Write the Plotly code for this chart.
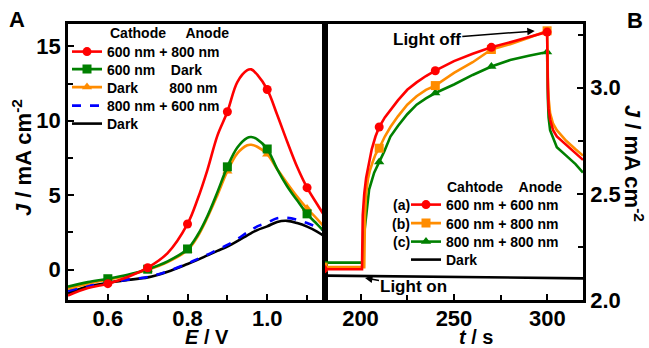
import numpy as np
import plotly.graph_objects as go

# ---------------- Panel A data (E / V vs J / mA cm-2) ----------------
E_A = [0.50, 0.55, 0.60, 0.65, 0.70, 0.75, 0.80, 0.825, 0.85, 0.875, 0.90,
       0.925, 0.95, 0.96, 0.975, 1.00, 1.025, 1.05, 1.075, 1.10, 1.125, 1.145]
J_A_600_800 = [-1.75, -1.25, -0.95, -0.5, 0.12, 1.1, 3.06, 4.7, 6.7, 9.0, 10.6,
               12.6, 13.4, 13.45, 13.1, 12.1, 10.4, 8.6, 6.9, 5.5, 4.4, 3.55]
J_A_600_dark = [-1.15, -0.85, -0.62, -0.35, 0.02, 0.55, 1.38, 2.3, 3.6, 5.2, 6.9,
                8.2, 8.85, 8.9, 8.75, 8.1, 6.75, 5.6, 4.65, 3.74, 3.05, 2.5]
J_A_dark_800 = [-1.3, -0.95, -0.68, -0.4, -0.02, 0.5, 1.3, 2.2, 3.5, 5.0, 6.6,
                7.8, 8.35, 8.38, 8.25, 7.75, 6.75, 5.8, 4.9, 4.1, 3.4, 2.8]
J_A_800_600 = [-1.45, -1.1, -0.88, -0.68, -0.5, -0.12, 0.4, 0.7, 1.0, 1.33, 1.65,
               2.05, 2.5, 2.65, 2.9, 3.15, 3.45, 3.47, 3.35, 3.12, 2.85, 2.6]
J_A_dark = [-1.6, -1.15, -0.89, -0.7, -0.53, -0.15, 0.37, 0.65, 0.95, 1.25, 1.54,
            1.9, 2.3, 2.45, 2.65, 2.9, 3.2, 3.27, 3.12, 2.88, 2.55, 2.21]
MARK_E = [0.6, 0.7, 0.8, 0.9, 1.0, 1.1]

# ---------------- Panel B data (t / s vs J / mA cm-2) ----------------
t_B_a = [180, 190, 200, 200.8, 201.2, 202, 203, 204.5, 206, 208, 210, 213, 216, 220,
         225, 230, 235, 240, 250, 260, 270, 280, 290, 299.8, 300.2, 300.6, 301.4,
         303, 305, 310, 315, 319]
J_B_a = [2.145, 2.145, 2.145, 2.145, 2.40, 2.50, 2.575, 2.65, 2.71, 2.77, 2.815, 2.86,
         2.895, 2.94, 2.99, 3.025, 3.055, 3.08, 3.125, 3.16, 3.19, 3.215, 3.24, 3.262,
         3.0, 2.90, 2.85, 2.80, 2.77, 2.73, 2.69, 2.66]
t_B_b = [180, 190, 200, 202.0, 202.4, 203, 204, 205, 206.5, 208, 210, 213, 216, 220,
         225, 230, 235, 240, 250, 260, 270, 280, 290, 299.8, 300.2, 300.6, 301.4,
         303, 305, 310, 315, 319]
J_B_b = [2.155, 2.155, 2.155, 2.155, 2.40, 2.50, 2.57, 2.61, 2.65, 2.685, 2.715, 2.77,
         2.815, 2.865, 2.92, 2.96, 2.99, 3.01, 3.07, 3.12, 3.18, 3.205, 3.235, 3.268,
         3.05, 2.95, 2.88, 2.83, 2.80, 2.75, 2.71, 2.68]
t_B_c = [180, 190, 200, 201.3, 201.8, 202.8, 204.6, 207.3, 210, 212.7, 216, 220, 225,
         230, 235, 240, 250, 260, 270, 280, 290, 299.8, 300.2, 300.6, 301.4, 303, 305,
         310, 315, 319]
J_B_c = [2.176, 2.176, 2.176, 2.176, 2.30, 2.39, 2.52, 2.60, 2.65, 2.70, 2.77, 2.82,
         2.875, 2.92, 2.95, 2.975, 3.015, 3.06, 3.10, 3.13, 3.15, 3.168, 2.95, 2.86,
         2.80, 2.76, 2.72, 2.68, 2.64, 2.60]
t_B_dark = [180, 200, 250, 300, 319]
J_B_dark = [2.115, 2.113, 2.108, 2.104, 2.102]
MARK_T = [180, 210, 240, 270, 299.8]

FONT = "Liberation Sans, Arial, sans-serif"
RED, GREEN, ORANGE, BLUE, BLACK = "#FF0000", "#008000", "#FF8C00", "#0000FF", "#000000"
NB = "\u00a0"

W, L = 515.0, 68.0
H, T = 276.0, 24.0


def px(xp):
    return (xp - L) / W


def py(yp):
    return (T + H - yp) / H


def pick(xs, ys, marks):
    idx = [i for i, v in enumerate(xs) if np.any(np.isclose(v, marks))]
    return [xs[i] for i in idx], [ys[i] for i in idx]


fig = go.Figure()

# ---- Panel A curves (draw order) ----
for ys, col, dash, sym in [
    (J_A_dark, BLACK, "solid", None),
    (J_A_800_600, BLUE, "dash", None),
    (J_A_dark_800, ORANGE, "solid", "triangle-up"),
    (J_A_600_dark, GREEN, "solid", "square"),
    (J_A_600_800, RED, "solid", "circle"),
]:
    fig.add_trace(go.Scatter(x=E_A, y=ys, mode="lines", xaxis="x", yaxis="y",
                             line=dict(color=col, width=2.6, dash=dash, shape="spline", smoothing=1),
                             showlegend=False, hoverinfo="skip"))
    if sym:
        mx, my = pick(E_A, ys, MARK_E)
        fig.add_trace(go.Scatter(x=mx, y=my, mode="markers", xaxis="x", yaxis="y",
                                 marker=dict(color=col, size=9, symbol=sym),
                                 showlegend=False, hoverinfo="skip"))

# ---- Panel B curves ----
for ts, ys, col, sym in [
    (t_B_dark, J_B_dark, BLACK, None),
    (t_B_c, J_B_c, GREEN, "triangle-up"),
    (t_B_b, J_B_b, ORANGE, "square"),
    (t_B_a, J_B_a, RED, "circle"),
]:
    fig.add_trace(go.Scatter(x=ts, y=ys, mode="lines", xaxis="x2", yaxis="y2",
                             line=dict(color=col, width=2.6),
                             showlegend=False, hoverinfo="skip"))
    if sym:
        mx, my = pick(ts, ys, MARK_T)
        fig.add_trace(go.Scatter(x=mx, y=my, mode="markers", xaxis="x2", yaxis="y2",
                                 marker=dict(color=col, size=9, symbol=sym),
                                 showlegend=False, hoverinfo="skip"))

# ---- Legend entries: one small legend per row (name, colour, dash, symbol, text-left px, row-centre px) ----
LEGEND_ROWS = [
    ("600 nm + 800 nm", RED, "solid", "circle", 111, 52),
    ("600 nm" + NB * 4 + "Dark", GREEN, "solid", "square", 111, 69.5),
    ("Dark" + NB * 8 + "800 nm", ORANGE, "solid", "triangle-up", 111, 87.5),
    ("800 nm + 600 nm", BLUE, "dash", None, 111, 106),
    ("Dark", BLACK, "solid", None, 111, 124),
    ("600 nm + 600 nm", RED, "solid", "circle", 450, 205),
    ("600 nm + 800 nm", ORANGE, "solid", "square", 450, 223.5),
    ("800 nm + 800 nm", GREEN, "solid", "triangle-up", 450, 242),
    ("Dark", BLACK, "solid", None, 450, 260),
]
legend_layout = {}
for k, (name, col, dash, sym, xl, yc) in enumerate(LEGEND_ROWS):
    lid = "legend" if k == 0 else "legend%d" % (k + 1)
    fig.add_trace(go.Scatter(x=[None], y=[None], xaxis="x", yaxis="y", name=name,
                             mode="lines+markers" if sym else "lines",
                             line=dict(color=col, width=2.6, dash=dash),
                             marker=dict(color=col, size=9, symbol=sym or "circle"),
                             legend=lid))
    legend_layout[lid] = dict(x=px(xl - 44), y=py(yc), xanchor="left", yanchor="middle",
                              bgcolor="rgba(0,0,0,0)", borderwidth=0,
                              font=dict(size=14, family=FONT, color="black", weight="bold"))

axis_common = dict(showline=True, linewidth=2.5, linecolor="black", mirror=True,
                   ticks="inside", ticklen=6, tickwidth=2, tickcolor="black",
                   showgrid=False, zeroline=False,
                   tickfont=dict(size=22, family=FONT, color="black", weight="bold"))

fig.update_layout(
    width=649, height=348,
    margin=dict(l=68, r=66, t=24, b=48),
    paper_bgcolor="white", plot_bgcolor="white",
    font=dict(family=FONT, color="black", weight="bold"),
    xaxis=dict(domain=[0, 0.499], range=[0.5, 1.145], anchor="y", tick0=0.6, dtick=0.2,
               tickformat=".1f", ticklabelstandoff=-3,
               minor=dict(dtick=0.1, tick0=0.5, ticks="inside", ticklen=5, tickwidth=2,
                          tickcolor="black"),
               **axis_common),
    yaxis=dict(domain=[0, 1], range=[-2.05, 16.5], anchor="x", tick0=0, dtick=5,
               minor=dict(dtick=2.5, tick0=0, ticks="inside", ticklen=5, tickwidth=2,
                          tickcolor="black"),
               **axis_common),
    xaxis2=dict(domain=[0.499, 1], range=[181, 319], anchor="y2", tick0=200, dtick=50,
                ticklabelstandoff=-3,
                minor=dict(dtick=25, tick0=200, ticks="inside", ticklen=5, tickwidth=2,
                           tickcolor="black"),
                **axis_common),
    yaxis2=dict(domain=[0, 1], range=[2.0, 3.3], anchor="x2", side="right", tick0=2.0,
                dtick=0.5, tickformat=".1f",
                minor=dict(dtick=0.25, tick0=2.0, ticks="inside", ticklen=5, tickwidth=2,
                           tickcolor="black"),
                **axis_common),
    **legend_layout,
)

ann = [
    dict(text="A", x=px(17), y=py(20), size=22, xa="center"),
    dict(text="B", x=px(635), y=py(21), size=22, xa="center"),
    dict(text="<i>E</i> / V", x=px(207), y=py(336.5), size=20, xa="center"),
    dict(text="<i>t</i> / s", x=px(476), y=py(336.5), size=20, xa="center"),
    dict(text="<i>J</i> / mA cm<sup>-2</sup>", x=px(22), y=py(158), size=22, angle=-90, xa="center"),
    dict(text="<i>J</i> / mA cm<sup>-2</sup>", x=px(634), y=py(163), size=22, angle=90, xa="center"),
    dict(text="Cathode" + NB * 5 + "Anode", x=px(108), y=py(33), size=14, xa="left"),
    dict(text="Cahtode" + NB * 4 + "Anode", x=px(445), y=py(187), size=14, xa="left"),
    dict(text="(a)", x=px(401), y=py(205), size=14, xa="center"),
    dict(text="(b)", x=px(401), y=py(223.5), size=14, xa="center"),
    dict(text="(c)", x=px(401), y=py(242), size=14, xa="center"),
]
for a in ann:
    fig.add_annotation(text=a["text"], x=a["x"], y=a["y"], xref="paper", yref="paper",
                       showarrow=False, textangle=a.get("angle", 0),
                       xanchor=a["xa"], yanchor="middle",
                       font=dict(size=a["size"], family=FONT, color="black", weight="bold"))

fig.add_annotation(text="Light off", x=293.2, y=3.267, xref="x2", yref="y2",
                   ax=-108, ay=8, showarrow=True, arrowhead=2, arrowsize=1,
                   arrowwidth=1.5, arrowcolor="black", standoff=0,
                   font=dict(size=17, family=FONT, color="black", weight="bold"))
fig.add_annotation(text="Light on", x=202.4, y=2.104, xref="x2", yref="y2",
                   ax=49, ay=9, showarrow=True, arrowhead=2, arrowsize=1,
                   arrowwidth=1.5, arrowcolor="black", standoff=0,
                   font=dict(size=17, family=FONT, color="black", weight="bold"))

fig.write_html("out.html", config={"displayModeBar": False},
               post_script="document.body.style.margin='0';document.body.style.overflow='hidden';")
